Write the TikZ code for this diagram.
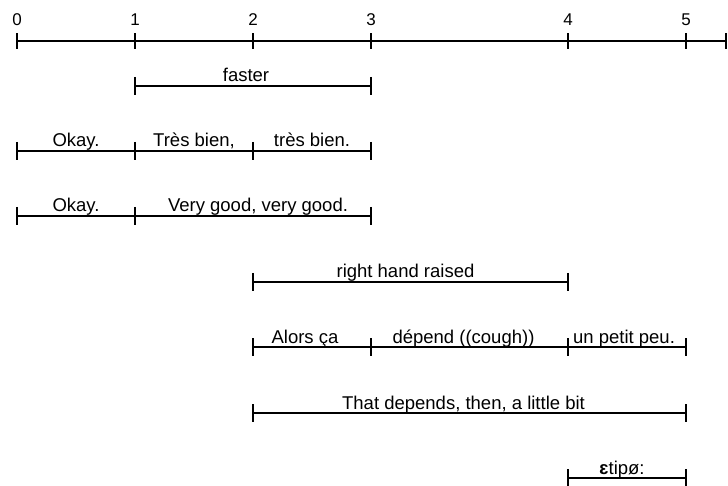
\documentclass[tikz,border=0pt]{standalone}
\usepackage{fontspec}
\setmainfont{Liberation Sans}
\usetikzlibrary{calc}
\begin{document}
\begin{tikzpicture}[x=1pt,y=-1pt,
  axisline/.style={line width=2.6pt},
  segline/.style={line width=1.7pt},
  tickmark/.style={line width=2.6pt},
  numlab/.style={font=\fontsize{17}{17}\selectfont, inner sep=0pt},
  seglab/.style={font=\fontsize{18.5}{18.5}\selectfont, inner sep=0pt, anchor=base}]
\useasboundingbox (0,0) rectangle (728,486);

% time axis
\foreach \n/\x in {0/17,1/135,2/253,3/371,4/568,5/686} {
  \coordinate (t\n) at (\x,41);
  \node[numlab] (n\n) at (\x,20) {\n};
}
\coordinate (tend) at (726,41);
\draw[axisline] (t0) -- (tend);
\foreach \c in {t0,t1,t2,t3,t4,t5,tend}
  \draw[tickmark] ([yshift=7.5]\c) -- ([yshift=-8.5]\c);

% tick at a coordinate
\def\tk#1{\draw[tickmark] ([yshift=9]#1) -- ([yshift=-9]#1);}

% faster
\coordinate (a1) at (135,86); \coordinate (a3) at (371,86);
\draw[segline] (a1) -- (a3); \tk{a1}\tk{a3}
\node[seglab] (fast) at ($(a1)!0.5!(a3)+(-7,-4)$) {faster};

% French utterance
\coordinate (b0) at (17,151); \coordinate (b1) at (135,151);
\coordinate (b2) at (253,151); \coordinate (b3) at (371,151);
\draw[segline] (b0) -- (b3); \tk{b0}\tk{b1}\tk{b2}\tk{b3}
\node[seglab] (okfr) at ($(b0)!0.5!(b1)+(0,-4)$) {Okay.};
\node[seglab] (tb1) at ($(b1)!0.5!(b2)+(0,-4)$) {Très bien,};
\node[seglab] (tb2) at ($(b2)!0.5!(b3)+(0,-4)$) {très bien.};

% English translation
\coordinate (c0) at (17,216); \coordinate (c1) at (135,216);
\coordinate (c3) at (371,216);
\draw[segline] (c0) -- (c3); \tk{c0}\tk{c1}\tk{c3}
\node[seglab] (oken) at ($(c0)!0.5!(c1)+(0,-4)$) {Okay.};
\node[seglab] (vg) at ($(c1)!0.5!(c3)+(5,-4)$) {Very good, very good.};

% gesture
\coordinate (d2) at (253,282); \coordinate (d4) at (568,282);
\draw[segline] (d2) -- (d4); \tk{d2}\tk{d4}
\node[seglab] (hand) at ($(d2)!0.5!(d4)+(-5,-4)$) {right hand raised};

% second French utterance
\coordinate (e2) at (253,347); \coordinate (e3) at (371,347);
\coordinate (e4) at (568,347); \coordinate (e5) at (686,347);
\draw[segline] (e2) -- (e5); \tk{e2}\tk{e3}\tk{e4}\tk{e5}
\node[seglab] (alors) at ($(e2)!0.5!(e3)+(-7,-4)$) {Alors ça};
\node[seglab] (dep) at ($(e3)!0.5!(e4)+(-6,-4)$) {dépend ((cough))};
\node[seglab] (peu) at ($(e4)!0.5!(e5)+(-3,-4)$) {un petit peu.};

% second English translation
\coordinate (f2) at (253,413); \coordinate (f5) at (686,413);
\draw[segline] (f2) -- (f5); \tk{f2}\tk{f5}
\node[seglab] (dep-en) at ($(f2)!0.5!(f5)+(-6,-4)$) {That depends, then, a little bit};

% transcription
\coordinate (g4) at (568,478); \coordinate (g5) at (686,478);
\draw[segline] (g4) -- (g5); \tk{g4}\tk{g5}
\node[seglab] (ipa) at ($(g4)!0.5!(g5)+(-5,-4)$) {{\bfseries ɛ}tipø:};
\end{tikzpicture}
\end{document}
